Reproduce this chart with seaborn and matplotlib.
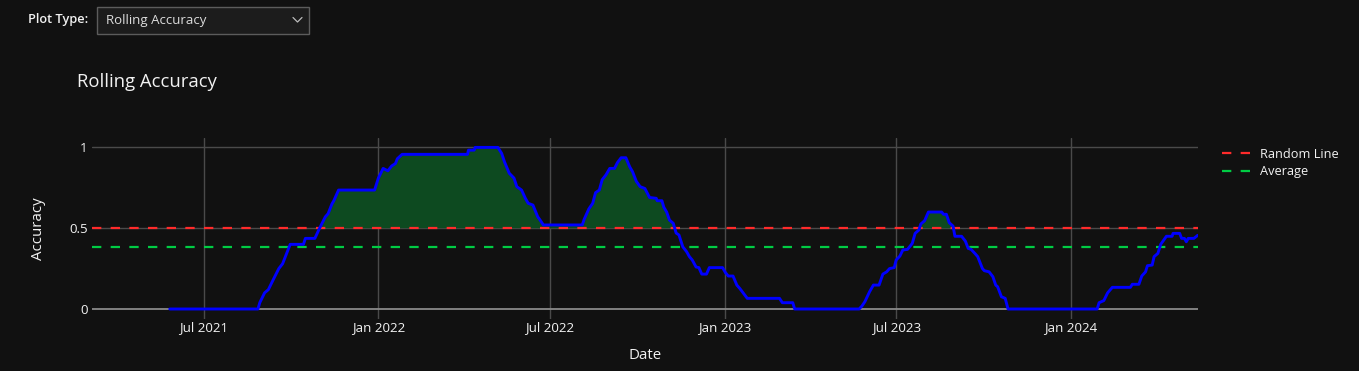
import numpy as np
import pandas as pd
import matplotlib
matplotlib.use("Agg")
import matplotlib.pyplot as plt
import matplotlib.dates as mdates
from matplotlib.patches import Rectangle
from matplotlib.lines import Line2D
import seaborn as sns

# ---------------- data ----------------
dates = [
    "2021-05-26", "2021-08-27", "2021-08-29", "2021-09-03", "2021-09-07", "2021-09-12",
    "2021-09-18", "2021-09-22", "2021-09-26", "2021-09-30", "2021-10-14", "2021-10-16",
    "2021-10-26", "2021-10-31", "2021-11-06", "2021-11-09", "2021-11-13", "2021-11-15",
    "2021-11-20", "2021-12-28", "2022-01-01", "2022-01-06", "2022-01-11", "2022-01-15",
    "2022-01-19", "2022-01-21", "2022-01-26",
    "2022-04-05", "2022-04-06", "2022-04-12", "2022-04-13", "2022-05-07", "2022-05-11",
    "2022-05-14", "2022-05-19", "2022-05-24", "2022-05-27", "2022-06-01", "2022-06-05",
    "2022-06-08", "2022-06-13", "2022-06-18", "2022-06-20", "2022-06-24", "2022-08-04",
    "2022-08-06", "2022-08-11", "2022-08-15", "2022-08-18", "2022-08-22", "2022-08-25",
    "2022-08-29", "2022-09-02", "2022-09-07", "2022-09-10", "2022-09-14", "2022-09-19",
    "2022-09-23", "2022-09-26", "2022-09-30", "2022-10-04", "2022-10-09", "2022-10-14",
    "2022-10-21", "2022-10-22", "2022-10-27", "2022-10-29", "2022-11-01", "2022-11-04",
    "2022-11-08", "2022-11-11", "2022-11-14", "2022-11-18", "2022-11-22", "2022-11-25",
    "2022-11-28", "2022-12-02", "2022-12-05", "2022-12-08", "2022-12-13", "2022-12-16",
    "2022-12-30", "2023-01-02", "2023-01-05", "2023-01-10", "2023-01-14", "2023-01-17",
    "2023-01-21", "2023-01-25", "2023-02-28", "2023-03-03", "2023-03-14", "2023-03-16",
    "2023-05-23", "2023-05-26", "2023-05-29", "2023-06-03", "2023-06-07", "2023-06-13",
    "2023-06-17", "2023-06-21", "2023-06-24", "2023-06-29", "2023-07-01", "2023-07-05",
    "2023-07-08", "2023-07-13", "2023-07-18", "2023-07-21", "2023-07-25", "2023-07-27",
    "2023-07-31", "2023-08-04", "2023-08-18", "2023-08-20", "2023-08-23", "2023-08-26",
    "2023-08-30", "2023-09-01", "2023-09-08", "2023-09-12", "2023-09-15", "2023-09-18",
    "2023-09-22", "2023-09-25", "2023-09-30", "2023-10-02", "2023-10-07", "2023-10-11",
    "2023-10-14", "2023-10-16", "2023-10-20", "2023-10-24", "2023-10-27",
    "2024-01-29", "2024-01-31", "2024-02-05", "2024-02-09", "2024-02-14", "2024-03-04",
    "2024-03-06", "2024-03-13", "2024-03-16", "2024-03-20", "2024-03-22", "2024-03-27",
    "2024-03-29", "2024-04-02", "2024-04-05", "2024-04-11", "2024-04-17", "2024-04-18",
    "2024-04-25", "2024-04-27", "2024-04-30", "2024-05-02", "2024-05-04", "2024-05-10",
    "2024-05-14",
]
accuracy = [
    0.0, 0.0, 0.04, 0.10, 0.12, 0.18,
    0.25, 0.28, 0.34, 0.40, 0.40, 0.437,
    0.437, 0.50, 0.57, 0.59, 0.65, 0.67,
    0.736, 0.736, 0.81, 0.87, 0.855, 0.885,
    0.90, 0.93, 0.957,
    0.957, 0.983, 0.983, 1.0, 1.0, 0.963,
    0.91, 0.84, 0.81, 0.757, 0.736, 0.685,
    0.654, 0.643, 0.571, 0.555, 0.52, 0.52,
    0.555, 0.62, 0.654, 0.72, 0.736, 0.80,
    0.83, 0.87, 0.87, 0.905, 0.936, 0.936,
    0.88, 0.85, 0.79, 0.757, 0.746, 0.69,
    0.685, 0.67, 0.67, 0.63, 0.60, 0.55,
    0.53, 0.47, 0.458, 0.385, 0.355, 0.324,
    0.303, 0.26, 0.256, 0.216, 0.216, 0.256,
    0.256, 0.225, 0.204, 0.204, 0.148, 0.128,
    0.097, 0.066, 0.066, 0.039, 0.039, 0.0,
    0.0, 0.019, 0.045, 0.107, 0.148, 0.148,
    0.216, 0.23, 0.25, 0.256, 0.303, 0.328,
    0.365, 0.369, 0.406, 0.468, 0.489, 0.526,
    0.546, 0.60, 0.60, 0.586, 0.586, 0.534,
    0.513, 0.45, 0.45, 0.42, 0.375, 0.369,
    0.344, 0.324, 0.25, 0.237, 0.23, 0.20,
    0.148, 0.138, 0.076, 0.066, 0.0,
    0.0, 0.039, 0.052, 0.10, 0.134, 0.134,
    0.153, 0.153, 0.204, 0.23, 0.268, 0.272,
    0.324, 0.344, 0.40, 0.45, 0.45, 0.468,
    0.468, 0.437, 0.437, 0.416, 0.437, 0.437,
    0.456,
]
ref_dates = ["2021-03-05", "2024-05-14"]
random_level = [0.5, 0.5]
average_level = [0.385, 0.385]
y_ticks = [0, 0.5, 1]
y_tick_labels = ["0", "0.5", "1"]

# ---------------- style ----------------
W, H = 1359, 371
BG = "#111111"
TXT = "#f2f2f2"
GRID = "#4a4a4a"
ZERO = "#8a8a8a"

sns.set_theme(style="dark")
plt.rcParams["font.family"] = ["Open Sans", "DejaVu Sans"]

fig = plt.figure(figsize=(W / 100, H / 100), dpi=100, facecolor=BG)
left, right, top, bottom = 92, 1197.7, 137.7, 318.7
ax = fig.add_axes([left / W, 1 - bottom / H, (right - left) / W, (bottom - top) / H])
ax.set_facecolor(BG)

df = pd.DataFrame({"Date": pd.to_datetime(dates), "Accuracy": accuracy})
ref = pd.DataFrame({"Date": pd.to_datetime(ref_dates),
                    "Random": random_level, "Average": average_level})

# fill above the random line
ax.fill_between(df["Date"], 0.5, df["Accuracy"], where=df["Accuracy"] >= 0.5,
                interpolate=True, color="#0d4a20", lw=0, zorder=2)

sns.lineplot(data=ref, x="Date", y="Random", ax=ax, color="#ff2b2b", lw=1.6,
             linestyle=(0, (4.2, 4.2)), label="Random Line", zorder=3)
sns.lineplot(data=ref, x="Date", y="Average", ax=ax, color="#00cc44", lw=1.6,
             linestyle=(0, (4.2, 4.2)), label="Average", zorder=3)
sns.lineplot(data=df, x="Date", y="Accuracy", ax=ax, color="#0000ff", lw=2.1,
             zorder=5)

ax.set_xlim(ref["Date"].min(), ref["Date"].max())
ax.set_ylim(-0.06, 1.06)
ax.set_yticks(y_ticks)
ax.set_yticklabels(y_tick_labels)
ax.xaxis.set_major_locator(mdates.MonthLocator(bymonth=[1, 7]))
ax.xaxis.set_major_formatter(mdates.DateFormatter("%b %Y"))

ax.grid(True, color=GRID, lw=1)
ax.get_ygridlines()[0].set_color(ZERO)
ax.get_ygridlines()[0].set_linewidth(1.3)
for s in ax.spines.values():
    s.set_visible(False)
ax.tick_params(axis="both", length=0, colors=TXT, labelsize=9.6)
ax.tick_params(axis="y", pad=3)
ax.tick_params(axis="x", pad=1.5)

ax.set_xlabel("Date", color=TXT, fontsize=10.8, labelpad=10.5)
ax.set_ylabel("Accuracy", color=TXT, fontsize=10.8, labelpad=16.5)

h, l = ax.get_legend_handles_labels()
ax.legend(h, l, loc="upper left", bbox_to_anchor=(1222 / W, 1 - 147.5 / H),
          bbox_transform=fig.transFigure, frameon=False, fontsize=9.2,
          handlelength=2.3, handletextpad=0.7, labelspacing=0.38,
          labelcolor=TXT, borderaxespad=0, borderpad=0)

# title
fig.text(77 / W, 1 - 82 / H, "Rolling Accuracy", color=TXT, fontsize=13.3, va="center", ha="left")

# top control: "Plot Type:" dropdown
fig.text(28 / W, 1 - 20 / H, "Plot Type:", color=TXT, fontsize=9.2, fontweight="semibold",
         va="center", ha="left")
fig.patches.append(Rectangle((97 / W, 1 - 34 / H), 212 / W, 27 / H, transform=fig.transFigure,
                             facecolor="#1c1c1c", edgecolor="#5c5c5c", lw=1))
fig.text(106 / W, 1 - 20.5 / H, "Rolling Accuracy", color="#dddddd", fontsize=9.5,
         va="center", ha="left")
fig.lines.append(Line2D([293 / W, 297.5 / W, 302 / W], [1 - 17.5 / H, 1 - 22 / H, 1 - 17.5 / H],
                        transform=fig.transFigure, color="#bbbbbb", lw=0.9))

fig.savefig("out.png", dpi=100, facecolor=BG)
